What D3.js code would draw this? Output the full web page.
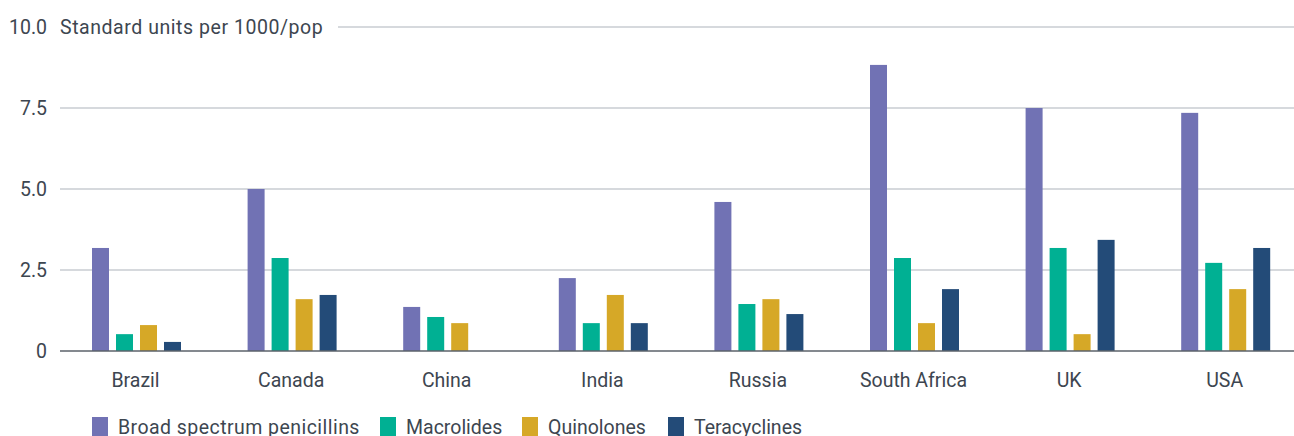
<!DOCTYPE html>
<html><head><meta charset="utf-8">
<script src="https://cdn.jsdelivr.net/npm/d3@7"></script>
<style>body{margin:0;background:#fff}svg{display:block}text{font-family:Roboto,sans-serif;fill:#3d4650}</style>
</head><body><svg id="c" width="1294" height="436"></svg>
<script>
const categories = ["Brazil","Canada","China","India","Russia","South Africa","UK","USA"];
const seriesNames = ["Broad spectrum penicillins","Macrolides","Quinolones","Teracyclines"];
const penicillins = [3.18, 5.0, 1.36, 2.25, 4.6, 8.83, 7.5, 7.35];
const macrolides  = [0.52, 2.87, 1.05, 0.86, 1.45, 2.87, 3.18, 2.72];
const quinolones  = [0.8, 1.6, 0.86, 1.73, 1.6, 0.86, 0.52, 1.91];
const teracyclines = [0.28, 1.73, 0, 0.86, 1.14, 1.91, 3.43, 3.18];
const yTicks = [0, 2.5, 5.0, 7.5, 10.0];
const yTickLabels = ["0","2.5","5.0","7.5","10.0"];
const colors = ["#7172b4","#00b093","#d6a827","#234b78"];
const series = [penicillins, macrolides, quinolones, teracyclines];
const FS = "19.5px";

const svg = d3.select("#c");
const y = d3.scaleLinear().domain([0,10]).range([351,27]);
const x = d3.scaleBand().domain(categories).range([58.7,1303.5]).padding(0);
const gx0 = 60, gx1 = 1294;

yTicks.forEach((t,i)=>{
  if (t===0) return;
  const startX = t===10 ? 338 : gx0;
  svg.append("line").attr("x1",startX).attr("x2",gx1).attr("y1",y(t)).attr("y2",y(t))
    .attr("stroke","#c9cdd2").attr("stroke-width",1.3);
});
yTicks.forEach((t,i)=>{
  svg.append("text").attr("x",47).attr("y",y(t)).attr("dy","0.35em").attr("text-anchor","end")
    .style("font-size",FS).text(yTickLabels[i]);
});
svg.append("text").attr("x",60).attr("y",y(10)).attr("dy","0.35em").style("font-size",FS)
  .style("letter-spacing","0.55px").text("Standard units per 1000/pop");

const g = svg.append("g");
categories.forEach((c,ci)=>{
  const cx = x(c) + x.bandwidth()/2 - 44.5;
  series.forEach((s,si)=>{
    if (s[ci] <= 0) return;
    g.append("rect").attr("x",cx + si*24).attr("width",17)
      .attr("y",y(s[ci])).attr("height",y(0)-y(s[ci])).attr("fill",colors[si]);
  });
});
svg.append("line").attr("x1",gx0).attr("x2",gx1).attr("y1",y(0)).attr("y2",y(0))
  .attr("stroke","#5b626a").attr("stroke-width",1.5);

const xAxis = svg.append("g");
categories.forEach(c=>{
  xAxis.append("text").attr("x",x(c)+x.bandwidth()/2 - 1).attr("y",386.5).attr("text-anchor","middle")
    .style("font-size",FS).text(c);
});

const legendX = [92,380,522,668];
seriesNames.forEach((n,i)=>{
  svg.append("rect").attr("x",legendX[i]).attr("y",417).attr("width",16).attr("height",19).attr("fill",colors[i]);
  svg.append("text").attr("x",legendX[i]+26).attr("y",434).style("font-size",FS)
    .style("letter-spacing", i===0 ? "0.45px" : "0px").text(n);
});
</script></body></html>
